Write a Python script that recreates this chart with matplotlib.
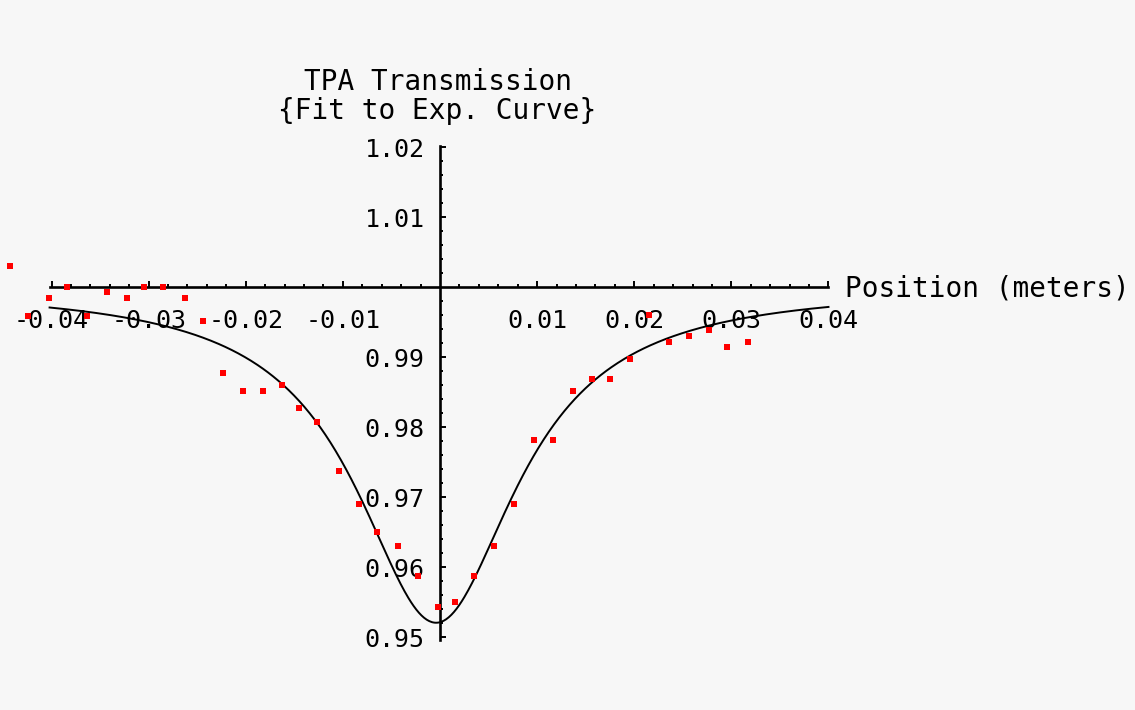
import numpy as np
import matplotlib
matplotlib.use("Agg")
import matplotlib.pyplot as plt
from matplotlib.ticker import FixedLocator

# Measured transmission (position in meters, normalized transmission)
position = [-0.0443, -0.0424, -0.0403, -0.0384, -0.0363, -0.0343, -0.0322,
            -0.0305, -0.0285, -0.0263, -0.0244, -0.0223, -0.0203, -0.0182,
            -0.0163, -0.0145, -0.0127, -0.0104, -0.0083, -0.0065, -0.0043,
            -0.0023, -0.0002, 0.0015, 0.0035, 0.0056, 0.0076, 0.0097,
            0.0116, 0.0137, 0.0157, 0.0175, 0.0196, 0.0215, 0.0236,
            0.0256, 0.0277, 0.0296, 0.0317]
transmission = [1.0030, 0.9959, 0.9985, 1.0000, 0.9959, 0.9993, 0.9985,
                1.0000, 1.0000, 0.9985, 0.9952, 0.9877, 0.9852, 0.9852,
                0.9861, 0.9828, 0.9807, 0.9737, 0.9691, 0.9650, 0.9630,
                0.9588, 0.9543, 0.9551, 0.9588, 0.9630, 0.9691, 0.9782,
                0.9782, 0.9852, 0.9869, 0.9869, 0.9898, 0.9960, 0.9922,
                0.9931, 0.9939, 0.9914, 0.9922]

# Fitted Lorentzian dip: T(z) = 1 - depth / (1 + ((z - z_c)/z_0)^2)
fit_depth = 0.0479
fit_center = -0.0004
fit_width = 0.0101
fit_range = (-0.0402, 0.0400)

x_major = [-0.04, -0.03, -0.02, -0.01, 0.01, 0.02, 0.03, 0.04]
x_labels = ["-0.04", "-0.03", "-0.02", "-0.01", "0.01", "0.02", "0.03", "0.04"]
y_major = [0.95, 0.96, 0.97, 0.98, 0.99, 1.01, 1.02]
y_labels = ["0.95", "0.96", "0.97", "0.98", "0.99", "1.01", "1.02"]

W, H = 1135, 710
bg = "#f7f7f7"
mono = "DejaVu Sans Mono"


def minor_positions(start, stop, step, majors, skip):
    vals = np.arange(start, stop + step / 2, step)
    return [v for v in vals
            if not np.isclose(v, skip, atol=1e-9)
            and not np.any(np.isclose(v, majors, atol=1e-9))]


fig = plt.figure(figsize=(W / 100, H / 100), dpi=100, facecolor=bg)
ax = fig.add_axes([0, 0, 1, 1], facecolor=bg)

ax.set_xlim(-440 / 9712, 695 / 9712)
ax.set_ylim(1 - 422.8 / 7005, 1 + 287.2 / 7005)

# Axes crossing at (0, 1)
for side in ("top", "right"):
    ax.spines[side].set_visible(False)
ax.spines["bottom"].set_position(("data", 1.0))
ax.spines["left"].set_position(("data", 0.0))
ax.spines["bottom"].set_bounds(fit_range[0], fit_range[1])
ax.spines["left"].set_bounds(0.9496, 1.0202)
for side in ("bottom", "left"):
    ax.spines[side].set_linewidth(1.9)
    ax.spines[side].set_color("black")

ax.xaxis.set_major_locator(FixedLocator(x_major))
ax.set_xticklabels(x_labels)
ax.xaxis.set_minor_locator(FixedLocator(
    minor_positions(-0.04, 0.04, 0.002, x_major, 0.0)))
ax.yaxis.set_major_locator(FixedLocator(y_major))
ax.set_yticklabels(y_labels)
ax.yaxis.set_minor_locator(FixedLocator(
    minor_positions(0.95, 1.02, 0.002, y_major, 1.0)))

ax.tick_params(which="both", direction="in", color="black", width=1.4)
ax.tick_params(which="major", length=4.5)
ax.tick_params(which="minor", length=2.4)
ax.tick_params(axis="x", which="major", pad=16, labelsize=18)
ax.tick_params(axis="y", which="major", pad=11, labelsize=18)
for lbl in ax.get_xticklabels() + ax.get_yticklabels():
    lbl.set_fontfamily(mono)

# Fitted curve
z = np.linspace(fit_range[0], fit_range[1], 600)
fit = 1 - fit_depth / (1 + ((z - fit_center) / fit_width) ** 2)
ax.plot(z, fit, color="black", lw=1.4, zorder=3)

# Measured points
ax.plot(position, transmission, linestyle="none", marker="s",
        markersize=4.3, markeredgewidth=0, color="#ff0000",
        zorder=4, clip_on=False)

# Labels
fig.text(437.5 / W, 1 - 82 / H, "TPA Transmission", ha="center", va="center",
         fontsize=20, fontfamily=mono)
fig.text(437.5 / W, 1 - 111 / H, "{Fit to Exp. Curve}", ha="center",
         va="center", fontsize=20, fontfamily=mono)
fig.text(845 / W, 1 - 289 / H, "Position (meters)", ha="left", va="center",
         fontsize=20, fontfamily=mono)

fig.savefig("out.png", dpi=100, facecolor=bg)
